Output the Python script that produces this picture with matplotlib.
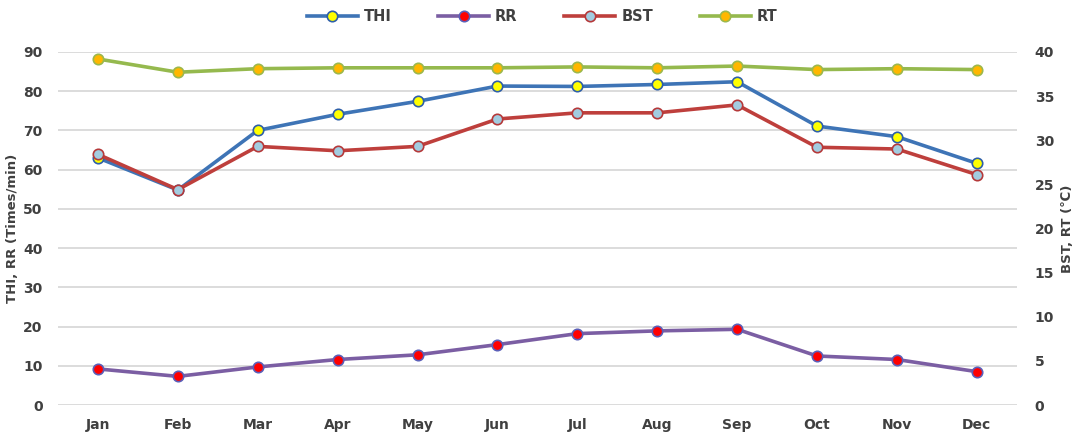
import matplotlib
matplotlib.use("Agg")
import matplotlib.pyplot as plt

months = ["Jan", "Feb", "Mar", "Apr", "May", "Jun", "Jul", "Aug", "Sep", "Oct", "Nov", "Dec"]
thi = [63.0, 54.8, 70.0, 74.1, 77.4, 81.3, 81.2, 81.7, 82.4, 71.1, 68.4, 61.6]
rr = [9.2, 7.3, 9.7, 11.6, 12.8, 15.4, 18.2, 18.9, 19.3, 12.5, 11.6, 8.5]
bst = [28.4, 24.4, 29.3, 28.8, 29.3, 32.4, 33.1, 33.1, 34.0, 29.2, 29.0, 26.1]
rt = [39.2, 37.7, 38.1, 38.2, 38.2, 38.2, 38.3, 38.2, 38.4, 38.0, 38.1, 38.0]

left_ticks = [0, 10, 20, 30, 40, 50, 60, 70, 80, 90]
right_ticks = [0, 5, 10, 15, 20, 25, 30, 35, 40]

plt.rcParams['font.family'] = ['DejaVu Sans']
txt = '#404040'

fig = plt.figure(figsize=(10.84, 4.40), dpi=100)
ax = fig.add_axes([0.0535, 0.0795, 0.8845, 0.8025])
ax2 = ax.twinx()

x = list(range(len(months)))
lw = 2.6
ms = 7.5

l1, = ax.plot(x, thi, color='#3E74B6', lw=lw, marker='o', ms=ms, mfc='#FFFF00', mec='#2E5FA8', mew=1.2, zorder=4)
l2, = ax.plot(x, rr, color='#7B5EA3', lw=lw, marker='o', ms=ms, mfc='#FF0000', mec='#5B5FB8', mew=1.2, zorder=4)
l3, = ax2.plot(x, bst, color='#BE3F3C', lw=lw, marker='o', ms=ms, mfc='#A2CCE0', mec='#B5393A', mew=1.2, zorder=4)
l4, = ax2.plot(x, rt, color='#95B94E', lw=lw, marker='o', ms=ms, mfc='#FFB700', mec='#9CB84C', mew=1.2, zorder=4)

ax.set_xlim(-0.5, 11.5)
ax.set_ylim(0, 90)
ax2.set_ylim(0, 40)
ax.set_yticks(left_ticks)
ax2.set_yticks(right_ticks)
ax.set_xticks(x)
ax.set_xticklabels(months)
ax.grid(axis='y', color='#D9D9D9', lw=1.3, zorder=0)
ax.set_axisbelow(True)

for a in (ax, ax2):
    for s in a.spines.values():
        s.set_visible(False)
    a.tick_params(length=0, colors=txt, labelsize=10)
    for lab in a.get_xticklabels() + a.get_yticklabels():
        lab.set_fontweight('bold')
ax.tick_params(axis='y', pad=11)
ax2.tick_params(axis='y', pad=13)
ax.tick_params(axis='x', pad=9)

ax.set_ylabel("THI, RR (Times/min)", fontsize=9.5, fontweight='bold', color=txt, labelpad=3)
ax2.set_ylabel("BST, RT (℃)", fontsize=9.5, fontweight='bold', color=txt, labelpad=5)

handles = [l1, l2, l3, l4]
labels = ["THI", "RR", "BST", "RT"]
leg = fig.legend(handles, labels, loc='upper center', bbox_to_anchor=(0.5, 1.01), ncol=4, frameon=False,
                 prop={'weight': 'bold', 'size': 10.5}, handlelength=3.5, columnspacing=3.2, handletextpad=0.4)
for t in leg.get_texts():
    t.set_color(txt)

fig.savefig("out.png", dpi=100)
